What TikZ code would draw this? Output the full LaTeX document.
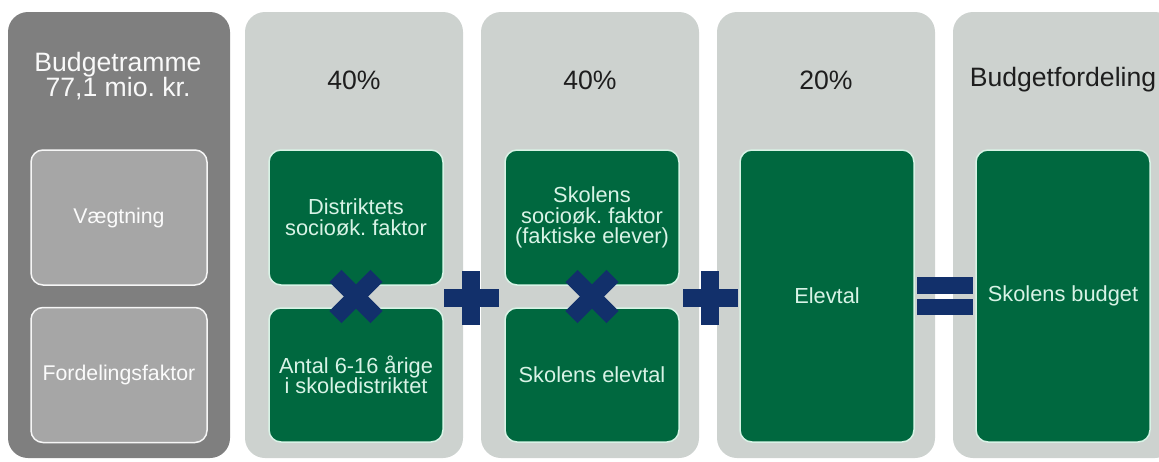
\documentclass[tikz,border=0pt]{standalone}
\usepackage{fontspec}
\setmainfont{Liberation Sans}
\usetikzlibrary{calc}
\frenchspacing
\definecolor{colgrey}{HTML}{CDD2CF}
\definecolor{darkgrey}{HTML}{7F7F7F}
\definecolor{boxgrey}{HTML}{A6A6A6}
\definecolor{boxgreen}{HTML}{00683F}
\definecolor{navy}{HTML}{12306B}
\definecolor{mint}{HTML}{D8F3E6}
\definecolor{titledark}{HTML}{1E1E1E}
\tikzset{
  column/.style={rounded corners=20pt, inner sep=0pt, outer sep=0pt},
  greenbox/.style={draw=mint, line width=1.5pt, fill=boxgreen, rounded corners=12pt,
     minimum width=174pt, inner sep=2pt, text=mint, align=center,
     font=\fontsize{21.8}{20.5}\selectfont},
  greybox/.style={draw=white!90!boxgrey, line width=1.5pt, fill=boxgrey, rounded corners=12pt,
     minimum width=176pt, minimum height=135pt, inner sep=2pt, text=white!95!boxgrey, align=center,
     font=\fontsize{21.3}{20.5}\selectfont},
  coltitle/.style={text=titledark, align=center, inner sep=0pt,
     font=\fontsize{26.6}{25}\selectfont},
  opfill/.style={fill=navy}
}
\begin{document}
\begin{tikzpicture}[x=1pt,y=-1pt]
\useasboundingbox (0,0) rectangle (1159,461);
\clip (0,0) rectangle (1159,461);
% columns
\fill[darkgrey, column] (8,12) rectangle (230,458);
\fill[colgrey, column] (245,12) rectangle (463,458);
\fill[colgrey, column] (481,12) rectangle (699,458);
\fill[colgrey, column] (717,12) rectangle (935,458);
\fill[colgrey, column] (953,12) rectangle (1175,458);
% titles
\node[coltitle, text=white!95!darkgrey] (t1) at (118,76) {Budgetramme\\77,1 mio. kr.};
\node[coltitle] (t2) at (354,80) {40\%};
\node[coltitle] (t3) at (590,80) {40\%};
\node[coltitle] (t4) at (826,80) {20\%};
\node[coltitle] (t5) at (1063,80) {Budgetfordeling};
% grey boxes
\node[greybox] (vaeg) at (119,217.5) {Vægtning};
\node[greybox] (ford) at (119,375) {Fordelingsfaktor};
% green boxes
\node[greenbox, minimum height=135pt] (dsf) at (356,217.5) {Distriktets\\socioøk. faktor};
\node[greenbox, minimum height=134pt] (ant) at (356,375) {Antal 6-16 årige\\i skoledistriktet};
\node[greenbox, minimum height=135pt] (ssf) at (592,217.5) {Skolens\\socioøk. faktor\\(faktiske elever)};
\node[greenbox, minimum height=134pt] (sel) at (592,375) {Skolens elevtal};
\node[greenbox, minimum height=292pt] (elev) at (827,296) {Elevtal};
\node[greenbox, minimum height=292pt] (sbud) at (1063,296) {Skolens budget};
% operators
\coordinate (x1) at ($(dsf.south)!0.5!(ant.north)$);
\coordinate (x2) at ($(ssf.south)!0.5!(sel.north)$);
\foreach \c in {x1,x2}{
  \fill[opfill, rotate around={45:(\c)}] ([xshift=-29pt,yshift=-8.5pt]\c) rectangle ([xshift=29pt,yshift=8.5pt]\c);
  \fill[opfill, rotate around={-45:(\c)}] ([xshift=-29pt,yshift=-8.5pt]\c) rectangle ([xshift=29pt,yshift=8.5pt]\c);
}
\coordinate (p1) at (471,298);
\coordinate (p2) at (710,298);
\foreach \c in {p1,p2}{
  \fill[opfill] ([xshift=-27.5pt,yshift=-9pt]\c) rectangle ([xshift=27.5pt,yshift=9pt]\c);
  \fill[opfill] ([xshift=-9pt,yshift=-27pt]\c) rectangle ([xshift=9pt,yshift=27pt]\c);
}
\coordinate (eq) at ($(elev.east)!0.5!(sbud.west)$);
\fill[opfill] ([xshift=-28pt,yshift=-19pt]eq) rectangle ([xshift=28pt,yshift=-2.5pt]eq);
\fill[opfill] ([xshift=-28pt,yshift=2.5pt]eq) rectangle ([xshift=28pt,yshift=19pt]eq);
\end{tikzpicture}
\end{document}
